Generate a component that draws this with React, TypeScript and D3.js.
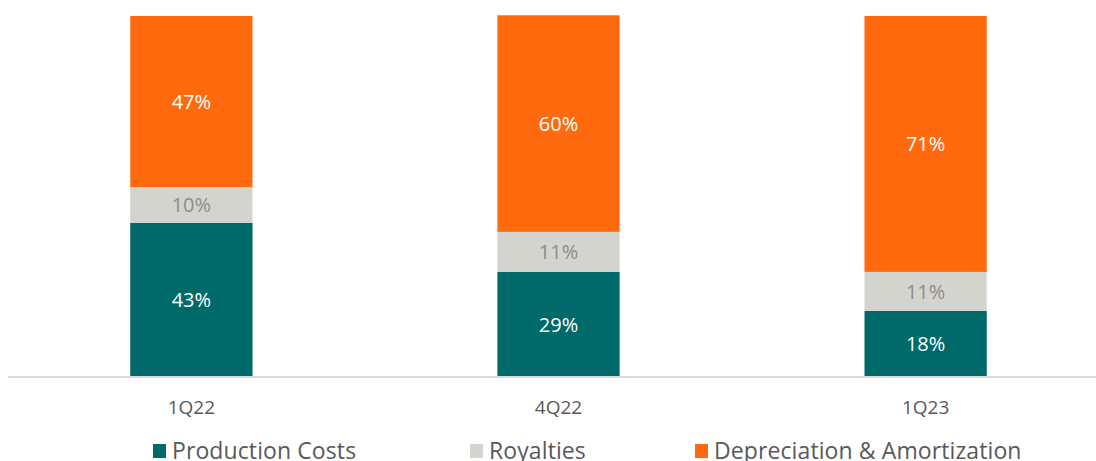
import React from "react";
import * as d3 from "d3";

const categories = ["1Q22", "4Q22", "1Q23"];
const seriesNames = ["Production Costs", "Royalties", "Depreciation & Amortization"];
const productionCosts = [42.7, 29.1, 18.3];
const royalties = [9.9, 11.1, 10.8];
const depreciation = [47.4, 60.0, 70.9];
const labels = [
  ["43%", "29%", "18%"],
  ["10%", "11%", "11%"],
  ["47%", "60%", "71%"],
];

const colors = ["#006a6b", "#d4d4cf", "#ff6a0f"];
const labelColors = ["#ffffff", "#8c8c8c", "#ffffff"];
const FONT = "'Open Sans', sans-serif";

export default function App() {
  const W = 1096, H = 461;
  const x = d3.scaleBand().domain(categories).range([8, 1109]).paddingInner(0.667).paddingOuter(0.333);
  const y = d3.scaleLinear().domain([0, 100]).range([377, 16]);
  const rows = categories.map((c, i) => ({ cat: c, pc: productionCosts[i], ro: royalties[i], da: depreciation[i] }));
  const stack = d3.stack<any>().keys(["pc", "ro", "da"])(rows);
  const legendX = [153, 470, 695];
  return (
    <svg width={W} height={H} style={{ position: "absolute", left: 0, top: 0 }}>
      {stack.map((s, si) => (
        <g key={si}>
          {s.map((d, i) => {
            const x0 = x(categories[i])!;
            const y0 = y(d[1]);
            const y1 = y(d[0]);
            return (
              <g key={i}>
                <rect x={x0} y={y0} width={x.bandwidth()} height={y1 - y0} fill={colors[si]} />
                <text x={x0 + x.bandwidth() / 2} y={(y0 + y1) / 2} dy="0.36em" textAnchor="middle"
                  fontFamily={FONT} fontSize={20} fill={labelColors[si]}>{labels[si][i]}</text>
              </g>
            );
          })}
        </g>
      ))}
      <line x1={8} x2={1096} y1={377} y2={377} stroke="#d9d9d9" strokeWidth={2} />
      {categories.map((c) => (
        <text key={c} x={x(c)! + x.bandwidth() / 2} y={407} dy="0.36em" textAnchor="middle"
          fontFamily={FONT} fontSize={19} fill="#595959">{c}</text>
      ))}
      {seriesNames.map((n, i) => (
        <g key={n}>
          <rect x={legendX[i]} y={444} width={13} height={14} fill={colors[i]} />
          <text x={legendX[i] + 19} y={459} fontFamily={FONT} fontSize={23} letterSpacing={0.1} fill="#595959">{n}</text>
        </g>
      ))}
    </svg>
  );
}
